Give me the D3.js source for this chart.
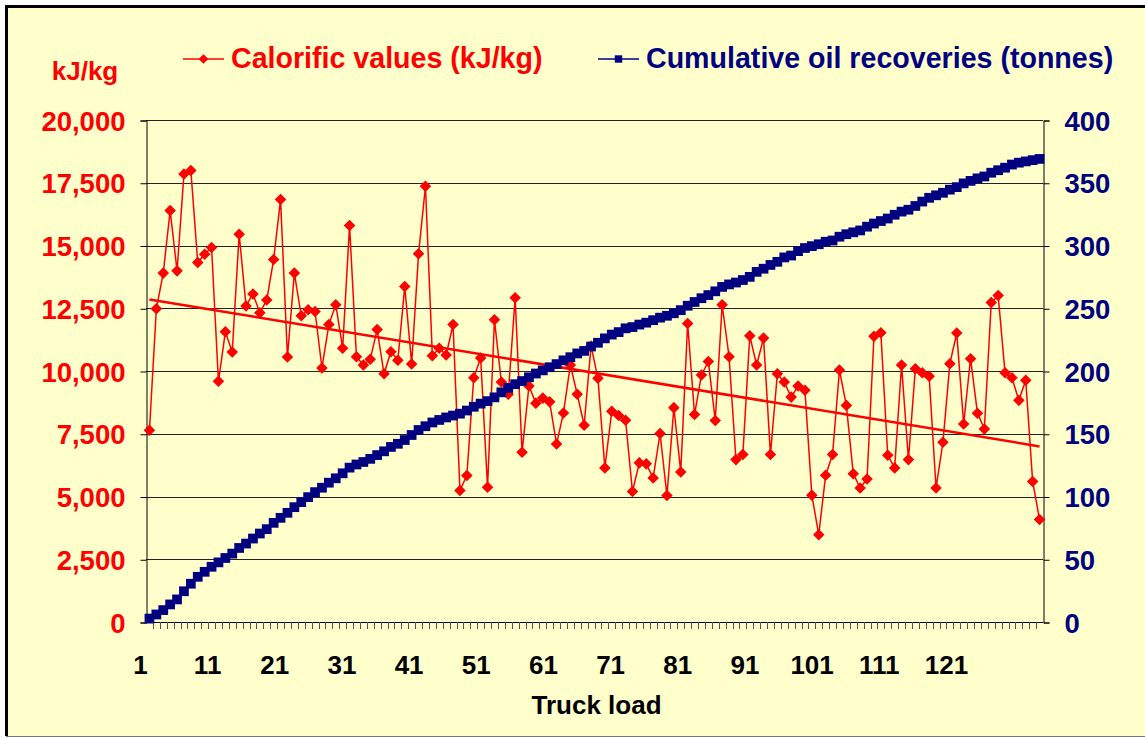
<!DOCTYPE html>
<html>
<head>
<meta charset="utf-8">
<script src="https://cdn.jsdelivr.net/npm/d3@7"></script>
<style>
html, body { margin: 0; padding: 0; background: #fff; }
text { font-family: "Liberation Sans", Arial, sans-serif; font-weight: bold; }
</style>
</head>
<body>
<div id="chart"></div>
<script>
// calorific value of each truck load (kJ/kg)
var calorific = [
  7640, 12480, 13900, 16390, 13990, 17850, 17990, 14320, 14650, 14920,
  9590, 11560, 10760, 15450, 12590, 13070, 12320, 12830, 14440, 16830,
  10560, 13900, 12200, 12440, 12370, 10120, 11850, 12640, 10910, 15800,
  10570, 10240, 10470, 11650, 9890, 10770, 10430, 13370, 10280, 14670,
  17360, 10610, 10910, 10640, 11850, 5240, 5840, 9730, 10520, 5370,
  12040, 9560, 9070, 12920, 6760, 9400, 8720, 8920, 8770, 7090,
  8330, 10240, 9070, 7840, 11000, 9710, 6140, 8400, 8230, 8040,
  5200, 6340, 6300, 5740, 7510, 5040, 8540, 5980, 11890, 8270,
  9840, 10380, 8030, 12640, 10570, 6470, 6670, 11400, 10240, 11310,
  6670, 9890, 9560, 8960, 9400, 9230, 5050, 3480, 5850, 6670,
  10040, 8630, 5910, 5340, 5700, 11380, 11520, 6640, 6140, 10240,
  6470, 10090, 9930, 9790, 5340, 7160, 10290, 11510, 7890, 10490,
  8320, 7690, 12730, 13010, 9930, 9730, 8830, 9630, 5600, 4080
];
// cumulative oil recovered (tonnes)
var cumulative = [
  2.7, 6, 9.5, 14, 18, 24.5, 30.5, 36, 40, 44,
  47.5, 51, 54.5, 59, 62.5, 66.5, 70.5, 74, 79, 83,
  87, 91.5, 95.5, 99.5, 103.5, 107, 111, 114.5, 118.5, 123,
  125.5, 127.5, 130, 133, 136, 139.5, 142, 145, 149, 153,
  156, 159, 161, 163, 164.5, 166, 168.5, 171.5, 174, 176,
  179, 183, 186.5, 189.5, 192, 195, 198, 200.5, 203, 205.5,
  208.5, 211, 214, 216, 219.5, 222.5, 226, 229, 231, 234,
  235, 237, 238.5, 240.5, 242.5, 244, 246, 248.5, 252, 255,
  258, 260.5, 263.5, 267, 269, 270.5, 272.5, 275, 279, 281.5,
  284.5, 287, 290.5, 292, 295.5, 298, 299.5, 301, 303, 304,
  307, 309, 310.5, 312, 315, 317.5, 319.5, 321.5, 324.5, 327,
  328.5, 331.5, 335, 338, 340, 342, 344.5, 346.5, 349.5, 351.5,
  353.5, 355, 358, 360, 362, 364.5, 366, 367, 368, 369
];
var loads = d3.range(1, calorific.length + 1);
var xTickLabels = [1, 11, 21, 31, 41, 51, 61, 71, 81, 91, 101, 111, 121];
var leftTicks = [0, 2500, 5000, 7500, 10000, 12500, 15000, 17500, 20000];
var rightTicks = [0, 50, 100, 150, 200, 250, 300, 350, 400];

var RED = "#ff0000", NAVY = "#000080";
var width = 1145, height = 738;
var plot = {left: 146, right: 1043, top: 120, bottom: 622};

var svg = d3.select("#chart").append("svg")
    .attr("width", width)
    .attr("height", height);

// chart area: thick black frame on top/left, thin grey at the bottom
svg.append("rect")
    .attr("x", 6).attr("y", 6)
    .attr("width", width).attr("height", 730)
    .attr("fill", "#ffffcc");
svg.append("path")
    .attr("d", "M6.5," + 736 + "V6.5H" + width)
    .attr("fill", "none")
    .attr("stroke", "#000")
    .attr("stroke-width", 3);
svg.append("line")
    .attr("x1", 6).attr("x2", width)
    .attr("y1", 736.5).attr("y2", 736.5)
    .attr("stroke", "#777");

// SCALES
var x = d3.scalePoint()
    .domain(loads)
    .range([plot.left, plot.right])
    .padding(0.5);
var band = x.step();

var yL = d3.scaleLinear().domain([0, 20000]).range([plot.bottom, plot.top]);
var yR = d3.scaleLinear().domain([0, 400]).range([plot.bottom, plot.top]);

// tick labels in the original sit a little left of their category
var labelX = d3.scaleLinear()
    .domain([1, 121])
    .range([x(1) - 9, x(121) - 31]);

// GRID
svg.append("g").selectAll("line")
  .data(leftTicks.slice(1))
  .enter().append("line")
    .attr("x1", plot.left).attr("x2", plot.right)
    .attr("y1", function(d) { return Math.round(yL(d)) + 0.5; })
    .attr("y2", function(d) { return Math.round(yL(d)) + 0.5; })
    .attr("stroke", "#222")
    .attr("stroke-width", 1);

// AXES
var leftAxis = svg.append("g")
    .attr("transform", "translate(" + (plot.left + 0.5) + ",0.5)")
    .call(d3.axisLeft(yL).tickValues(leftTicks).tickFormat(d3.format(",")).tickSize(6).tickPadding(15));
leftAxis.selectAll("text").attr("fill", RED).style("font-size", "27.5px").attr("dy", "0.35em");

var rightAxis = svg.append("g")
    .attr("transform", "translate(" + (plot.right + 0.5) + ",0.5)")
    .call(d3.axisRight(yR).tickValues(rightTicks).tickSize(6).tickPadding(15));
rightAxis.selectAll("text").attr("fill", NAVY).style("font-size", "27.5px").attr("dy", "0.35em");

[leftAxis, rightAxis].forEach(function(a) {
  a.select(".domain").attr("stroke", "#000");
  a.selectAll(".tick line").attr("stroke", "#000");
});

// x axis: baseline, a tick between every truck load
svg.append("line")
    .attr("x1", plot.left).attr("x2", plot.right)
    .attr("y1", plot.bottom + 0.5).attr("y2", plot.bottom + 0.5)
    .attr("stroke", "#000");

svg.append("g").selectAll("line")
  .data(loads.slice(1))
  .enter().append("line")
    .attr("x1", function(d) { return Math.round(x(d) - band / 2) + 0.5; })
    .attr("x2", function(d) { return Math.round(x(d) - band / 2) + 0.5; })
    .attr("y1", plot.bottom).attr("y2", plot.bottom + 7)
    .attr("stroke", "#555");

svg.append("g").selectAll("text")
  .data(xTickLabels)
  .enter().append("text")
    .attr("x", function(d) { return labelX(d); })
    .attr("y", plot.bottom + 52)
    .attr("text-anchor", "middle")
    .style("font-size", "26px")
    .attr("fill", "#000")
    .text(function(d) { return d; });

// AXIS TITLES
svg.append("text")
    .attr("x", (plot.left + plot.right) / 2 + 2)
    .attr("y", 714)
    .attr("text-anchor", "middle")
    .style("font-size", "26px")
    .text("Truck load");

svg.append("text")
    .attr("x", 85)
    .attr("y", 80)
    .attr("text-anchor", "middle")
    .style("font-size", "26px")
    .attr("fill", RED)
    .text("kJ/kg");

// SERIES
var diamond = d3.symbol().type(d3.symbolDiamond2).size(85);
var square = d3.symbol().type(d3.symbolSquare).size(95);

var redLine = d3.line()
    .x(function(d, i) { return x(loads[i]); })
    .y(function(d) { return yL(d); });

svg.append("path")
    .datum(calorific)
    .attr("d", redLine)
    .attr("fill", "none")
    .attr("stroke", RED)
    .attr("stroke-width", 1.5);

svg.append("g").selectAll("path")
  .data(calorific)
  .enter().append("path")
    .attr("d", diamond)
    .attr("transform", function(d, i) { return "translate(" + x(loads[i]) + "," + yL(d) + ")"; })
    .attr("fill", RED);

// linear trend of the calorific values (least squares)
var mx = d3.mean(loads), my = d3.mean(calorific);
var sxy = d3.sum(loads, function(k, i) { return (k - mx) * (calorific[i] - my); });
var sxx = d3.sum(loads, function(k) { return (k - mx) * (k - mx); });
var slope = sxy / sxx, icpt = my - slope * mx;
var ends = [loads[0], loads[loads.length - 1]];

svg.append("path")
    .datum(ends)
    .attr("d", d3.line()
        .x(function(k) { return x(k); })
        .y(function(k) { return yL(icpt + slope * k); }))
    .attr("stroke", RED)
    .attr("stroke-width", 2.5)
    .attr("fill", "none");

var blueLine = d3.line()
    .x(function(d, i) { return x(loads[i]); })
    .y(function(d) { return yR(d); });

svg.append("path")
    .datum(cumulative)
    .attr("d", blueLine)
    .attr("fill", "none")
    .attr("stroke", NAVY)
    .attr("stroke-width", 1);

svg.append("g").selectAll("path")
  .data(cumulative)
  .enter().append("path")
    .attr("d", square)
    .attr("transform", function(d, i) { return "translate(" + x(loads[i]) + "," + yR(d) + ")"; })
    .attr("fill", NAVY);

// LEGEND
var legend = [
  {label: "Calorific values (kJ/kg)", color: RED, sym: d3.symbol().type(d3.symbolDiamond2).size(60), x: 183},
  {label: "Cumulative oil recoveries (tonnes)", color: NAVY, sym: d3.symbol().type(d3.symbolSquare).size(55), x: 598}
];
var lg = svg.selectAll("g.legend")
  .data(legend)
  .enter().append("g")
    .attr("class", "legend")
    .attr("transform", function(d) { return "translate(" + d.x + ",59)"; });
lg.append("line")
    .attr("x1", 0).attr("x2", 41)
    .attr("stroke", function(d) { return d.color; })
    .attr("stroke-width", 1.5);
lg.append("path")
    .attr("d", function(d) { return d.sym(); })
    .attr("transform", "translate(20.5,0)")
    .attr("fill", function(d) { return d.color; });
lg.append("text")
    .attr("x", 48)
    .attr("y", 9)
    .style("font-size", "28.6px")
    .attr("fill", function(d) { return d.color; })
    .text(function(d) { return d.label; });
</script>
</body>
</html>
